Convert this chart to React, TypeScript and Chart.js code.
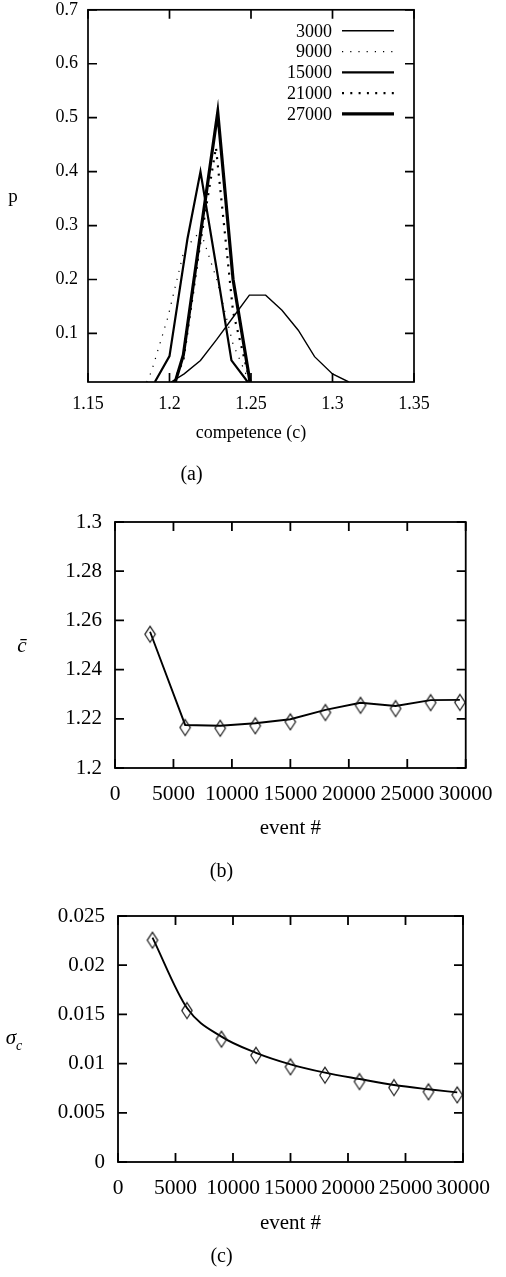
import React, { useEffect, useRef } from 'react';
import { Chart, registerables } from 'chart.js';

Chart.register(...registerables);

const FONT = '"Liberation Serif", "Times New Roman", "DejaVu Serif", serif';

// ---------- (a) distributions of competence ----------
const seriesLabels = ['3000', '9000', '15000', '21000', '27000'];
const c3000 = [1.201, 1.209, 1.219, 1.229, 1.239, 1.249, 1.259, 1.269, 1.279, 1.289, 1.3, 1.31];
const p3000 = [0.01, 0.025, 0.05, 0.089, 0.13, 0.171, 0.171, 0.143, 0.106, 0.057, 0.025, 0.01];
const c9000 = [1.186, 1.189, 1.199, 1.209, 1.219, 1.229, 1.239, 1.249];
const p9000 = [0.01, 0.03, 0.13, 0.255, 0.29, 0.2, 0.08, 0.01];
const c15000 = [1.191, 1.2, 1.211, 1.219, 1.229, 1.238, 1.248];
const p15000 = [0.01, 0.058, 0.275, 0.4, 0.218, 0.05, 0.01];
const c21000 = [1.2025, 1.2085, 1.219, 1.2285, 1.239, 1.2494];
const p21000 = [0.01, 0.05, 0.27, 0.445, 0.14, 0.01];
const c27000 = [1.2035, 1.2085, 1.219, 1.2296, 1.239, 1.2494];
const p27000 = [0.01, 0.06, 0.285, 0.51, 0.2, 0.01];
const xTicksA = [1.15, 1.2, 1.25, 1.3, 1.35];
const yTicksA = [0.1, 0.2, 0.3, 0.4, 0.5, 0.6, 0.7];

// ---------- (b) mean competence, (c) std dev ----------
const events = [3000, 6000, 9000, 12000, 15000, 18000, 21000, 24000, 27000, 29500];
const meanC = [1.2554, 1.2175, 1.2172, 1.2182, 1.2198, 1.2236, 1.2265, 1.2252, 1.2276, 1.2277];
const sigmaC = [0.0228, 0.01565, 0.01274, 0.0111, 0.00993, 0.00908, 0.00843, 0.00782, 0.00739, 0.00708];
const xTicksEvents = [0, 5000, 10000, 15000, 20000, 25000, 30000];
const yTicksB = [1.2, 1.22, 1.24, 1.26, 1.28, 1.3];
const yTicksC = [0, 0.005, 0.01, 0.015, 0.02, 0.025];

const fmt = (v: number) => String(+Number(v).toFixed(6));

const framePlugin = {
  id: 'gnuplotFrame',
  afterDatasetsDraw(chart: any, _args: any, opts: any) {
    const { ctx, chartArea } = chart;
    const { left, right, top, bottom } = chartArea;
    const xs = chart.scales.x;
    const ys = chart.scales.y;
    const L = opts.tickLength;
    ctx.save();
    ctx.strokeStyle = '#000';
    ctx.lineWidth = opts.tickWidth;
    ctx.beginPath();
    xs.ticks.forEach((t: any) => {
      const px = xs.getPixelForValue(t.value);
      ctx.moveTo(px, bottom);
      ctx.lineTo(px, bottom - L);
      ctx.moveTo(px, top);
      ctx.lineTo(px, top + L);
    });
    ys.ticks.forEach((t: any) => {
      const py = ys.getPixelForValue(t.value);
      ctx.moveTo(left, py);
      ctx.lineTo(left + L, py);
      ctx.moveTo(right, py);
      ctx.lineTo(right - L, py);
    });
    ctx.stroke();
    ctx.lineWidth = opts.borderWidth;
    ctx.strokeRect(left, top, right - left, bottom - top);
    ctx.restore();
  },
};

const keyPlugin = {
  id: 'gnuplotKey',
  afterDatasetsDraw(chart: any, _args: any, opts: any) {
    if (!opts || !opts.show) return;
    const { ctx, chartArea } = chart;
    ctx.save();
    ctx.font = `${opts.fontSize}px ${FONT}`;
    ctx.textAlign = 'right';
    ctx.textBaseline = 'middle';
    ctx.fillStyle = '#000';
    chart.data.datasets.forEach((ds: any, i: number) => {
      const y = chartArea.top + opts.top + i * opts.rowHeight;
      const x2 = chartArea.right - opts.right;
      const x1 = x2 - opts.sampleLength;
      ctx.fillText(ds.label, x1 - opts.gap, y + 1);
      ctx.strokeStyle = '#000';
      ctx.lineWidth = ds.borderWidth;
      ctx.setLineDash(ds.borderDash || []);
      ctx.beginPath();
      ctx.moveTo(x1, y);
      ctx.lineTo(x2, y);
      ctx.stroke();
    });
    ctx.restore();
  },
};

function makeDiamond(w: number, h: number, dy: number) {
  const c = document.createElement('canvas');
  const W = Math.ceil(w) + 3;
  const H = Math.ceil(h + 2 * Math.abs(dy)) + 3;
  c.width = W;
  c.height = H;
  const g = c.getContext('2d')!;
  const cx = W / 2;
  const cy = H / 2 + dy;
  g.strokeStyle = '#111';
  g.lineWidth = 1.1;
  g.beginPath();
  g.moveTo(cx, cy - h / 2);
  g.lineTo(cx + w / 2, cy);
  g.lineTo(cx, cy + h / 2);
  g.lineTo(cx - w / 2, cy);
  g.closePath();
  g.stroke();
  return c;
}

function axisCommon(size: number, ticks: number[], pad: number, extra: any) {
  return {
    type: 'linear',
    grid: { display: false, drawTicks: false },
    border: { display: false },
    afterBuildTicks: (s: any) => {
      s.ticks = ticks.map((v) => ({ value: v }));
    },
    ticks: {
      color: '#000',
      font: { family: FONT, size },
      padding: pad,
      maxRotation: 0,
      minRotation: 0,
      autoSkip: false,
      callback: (v: any) => fmt(v),
    },
    ...extra,
  };
}

function useChart(ref: React.RefObject<HTMLCanvasElement>, build: () => any) {
  useEffect(() => {
    if (!ref.current) return;
    const chart = new Chart(ref.current, build());
    return () => chart.destroy();
  }, []);
}

function ChartA() {
  const ref = useRef<HTMLCanvasElement>(null);
  useChart(ref, () => {
    const cs = [c3000, c9000, c15000, c21000, c27000];
    const ps = [p3000, p9000, p15000, p21000, p27000];
    const widths = [1.4, 1.2, 2.2, 2.2, 3.2];
    const dashes = [[], [1.2, 7], [], [2, 6.3], []];
    return {
      type: 'line',
      data: {
        datasets: seriesLabels.map((lab, i) => ({
          label: lab,
          data: cs[i].map((c, j) => ({ x: c, y: ps[i][j] })),
          borderColor: '#000',
          borderWidth: widths[i],
          borderDash: dashes[i],
          pointRadius: 0,
          fill: false,
          tension: 0,
        })),
      },
      options: {
        animation: false,
        responsive: false,
        maintainAspectRatio: false,
        layout: { padding: { top: 20, right: 92, bottom: 0, left: 0 } },
        plugins: {
          legend: { display: false },
          tooltip: { enabled: false },
          gnuplotFrame: { tickLength: 9, tickWidth: 1.7, borderWidth: 1.7 },
          gnuplotKey: { show: true, fontSize: 18, top: 21, rowHeight: 20.75, right: 20, sampleLength: 52, gap: 10 },
        },
        scales: {
          x: axisCommon(18, xTicksA, 11, {
            min: 1.15,
            max: 1.35,
            afterFit: (s: any) => { s.height = 62; },
            title: { display: true, text: 'competence (c)', color: '#000', font: { family: FONT, size: 18 }, padding: 0 },
          }),
          y: axisCommon(18, yTicksA, 10, {
            min: 0.01,
            max: 0.7,
            afterFit: (s: any) => { s.width = 88; },
          }),
        },
      },
      plugins: [framePlugin, keyPlugin],
    };
  });
  return <canvas ref={ref} width={506} height={455} style={{ position: 'absolute', left: 0, top: -11, width: 506, height: 455 }} />;
}

function EventChart(props: { values: number[]; yTicks: number[]; ymin: number; ymax: number; smooth: boolean; top: number; height: number; padTop: number; padRight: number; yWidth: number; xHeight: number }) {
  const ref = useRef<HTMLCanvasElement>(null);
  useChart(ref, () => {
    const diamond = makeDiamond(10.5, 16, 2.6);
    return {
      type: 'line',
      data: {
        datasets: [
          {
            label: 'data',
            data: events.map((e, i) => ({ x: e, y: props.values[i] })),
            borderColor: '#000',
            borderWidth: 1.9,
            pointStyle: diamond,
            pointRadius: 6,
            tension: props.smooth ? 0.4 : 0,
            cubicInterpolationMode: props.smooth ? 'monotone' : 'default',
            fill: false,
          },
        ],
      },
      options: {
        animation: false,
        responsive: false,
        maintainAspectRatio: false,
        layout: { padding: { top: props.padTop, right: props.padRight, bottom: 0, left: 0 } },
        plugins: {
          legend: { display: false },
          tooltip: { enabled: false },
          gnuplotFrame: { tickLength: 9, tickWidth: 1.8, borderWidth: 1.8 },
          gnuplotKey: { show: false },
        },
        scales: {
          x: axisCommon(21.5, xTicksEvents, 13.4, {
            min: 0,
            max: 30000,
            afterFit: (s: any) => { s.height = props.xHeight; },
            title: { display: true, text: 'event #', color: '#000', font: { family: FONT, size: 21 }, padding: 0 },
          }),
          y: axisCommon(21, props.yTicks, 13, {
            min: props.ymin,
            max: props.ymax,
            afterFit: (s: any) => { s.width = props.yWidth; },
          }),
        },
      },
      plugins: [framePlugin, keyPlugin],
    };
  });
  return <canvas ref={ref} width={506} height={props.height} style={{ position: 'absolute', left: 0, top: props.top, width: 506, height: props.height }} />;
}

function Label(props: { x: number; y: number; size: number; children: any }) {
  return (
    <div
      style={{
        position: 'absolute',
        left: props.x,
        top: props.y,
        transform: 'translate(-50%, -50%)',
        fontFamily: FONT,
        fontSize: props.size,
        lineHeight: 1,
        whiteSpace: 'nowrap',
        color: '#000',
      }}
    >
      {props.children}
    </div>
  );
}

export default function App() {
  return (
    <div style={{ position: 'absolute', left: 0, top: 0, width: 506, height: 1277, overflow: 'hidden', background: '#fff' }}>
      <ChartA />
      <EventChart values={meanC} yTicks={yTicksB} ymin={1.2} ymax={1.3} smooth={false} top={470} height={371} padTop={52} padRight={35} yWidth={115} xHeight={73} />
      <EventChart values={sigmaC} yTicks={yTicksC} ymin={0} ymax={0.025} smooth={true} top={870} height={366} padTop={46} padRight={43} yWidth={118} xHeight={74} />
      <Label x={13} y={195} size={19}>p</Label>
      <Label x={22} y={645} size={21}><i>c&#772;</i></Label>
      <Label x={14} y={1040} size={21}><i>σ</i><sub style={{ fontSize: 14 }}><i>c</i></sub></Label>
      <Label x={191.5} y={473} size={20}>(a)</Label>
      <Label x={221.5} y={870} size={20}>(b)</Label>
      <Label x={221.5} y={1255} size={20}>(c)</Label>
    </div>
  );
}
